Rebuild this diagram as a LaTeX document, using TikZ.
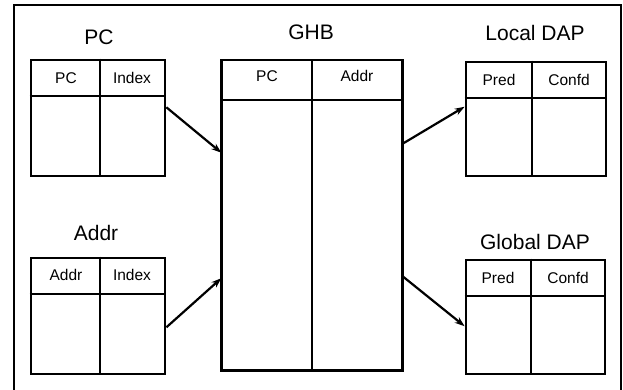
\documentclass[tikz,border=0pt]{standalone}
\usepackage{fontspec}
\setmainfont{Liberation Sans}
\usetikzlibrary{arrows.meta,calc}
\begin{document}
\begin{tikzpicture}[x=1pt,y=-1pt,
  tbl/.style={draw, line width=2.8pt, inner sep=0pt},
  thin/.style={line width=1.4pt},
  ttl/.style={font=\fontsize{21}{21}\selectfont, inner sep=0pt, text height=15pt, text depth=0pt},
  cell/.style={font=\fontsize{15.5}{16}\selectfont, inner sep=0pt, text height=11pt, text depth=0pt},
  arr/.style={line width=2.2pt, -{Stealth[length=10pt,width=7pt]}}]
\useasboundingbox (0,0) rectangle (623,390);
% frame
\draw[line width=2.2pt] (14,392) -- (14,5) -- (621,5) -- (621,392);

% PC table
\node[tbl, minimum width=134pt, minimum height=116pt] (pc) at (98,118) {};
\draw[thin] (pc.west |- 0,96) -- (pc.east |- 0,96);
\draw[thin] (pc.north -| 100,0) -- (pc.south -| 100,0);
\node[ttl] (pcT) at (99,37) {PC};
\node[cell] (pcA) at (66,78) {PC};
\node[cell] (pcB) at (132,78) {Index};

% Addr table
\node[tbl, minimum width=134pt, minimum height=116pt] (ad) at (98,316) {};
\draw[thin] (ad.west |- 0,294) -- (ad.east |- 0,294);
\draw[thin] (ad.north -| 100,0) -- (ad.south -| 100,0);
\node[ttl] (adT) at (96,233) {Addr};
\node[cell] (adA) at (66,275) {Addr};
\node[cell] (adB) at (132,275) {Index};

% GHB
\node[draw, thin, inner sep=0pt, minimum width=180pt, minimum height=310pt] (ghb) at (312,215) {};
\draw[line width=2.8pt] (ghb.north west) -- (ghb.south west) -- (ghb.south east) -- (ghb.north east);
\draw[thin] (ghb.west |- 0,100) -- (ghb.east |- 0,100);
\draw[thin] (ghb.north -| 312,0) -- (ghb.south -| 312,0);
\node[ttl] (ghbT) at (311,32) {GHB};
\node[cell] (ghbA) at (267,76) {PC};
\node[cell] (ghbB) at (357,76) {Addr};

% Local DAP
\node[tbl, minimum width=140pt, minimum height=114pt] (ld) at (536,119) {};
\draw[thin] (ld.west |- 0,98) -- (ld.east |- 0,98);
\draw[thin] (ld.north -| 532,0) -- (ld.south -| 532,0);
\node[ttl] (ldT) at (535,33) {Local DAP};
\node[cell] (ldA) at (499,80) {Pred};
\node[cell] (ldB) at (569,80) {Confd};

% Global DAP
\node[tbl, minimum width=139pt, minimum height=114pt] (gd) at (535.5,317) {};
\draw[thin] (gd.west |- 0,296) -- (gd.east |- 0,296);
\draw[thin] (gd.north -| 531,0) -- (gd.south -| 531,0);
\node[ttl] (gdT) at (535,242) {Global DAP};
\node[cell] (gdA) at (498,278) {Pred};
\node[cell] (gdB) at (568,278) {Confd};

% arrows
\draw[arr] ($(pc.north east)!0.41!(pc.south east)$) -- ($(ghb.north west)!0.30!(ghb.south west)$);
\draw[arr] ($(ad.north east)!0.595!(ad.south east)$) -- ($(ghb.north west)!0.703!(ghb.south west)$);
\draw[arr] ($(ghb.north east)!0.271!(ghb.south east)$) -- ($(ld.north west)!0.395!(ld.south west)$);
\draw[arr] ($(ghb.north east)!0.697!(ghb.south east)$) -- ($(gd.north west)!0.579!(gd.south west)$);
\end{tikzpicture}
\end{document}
